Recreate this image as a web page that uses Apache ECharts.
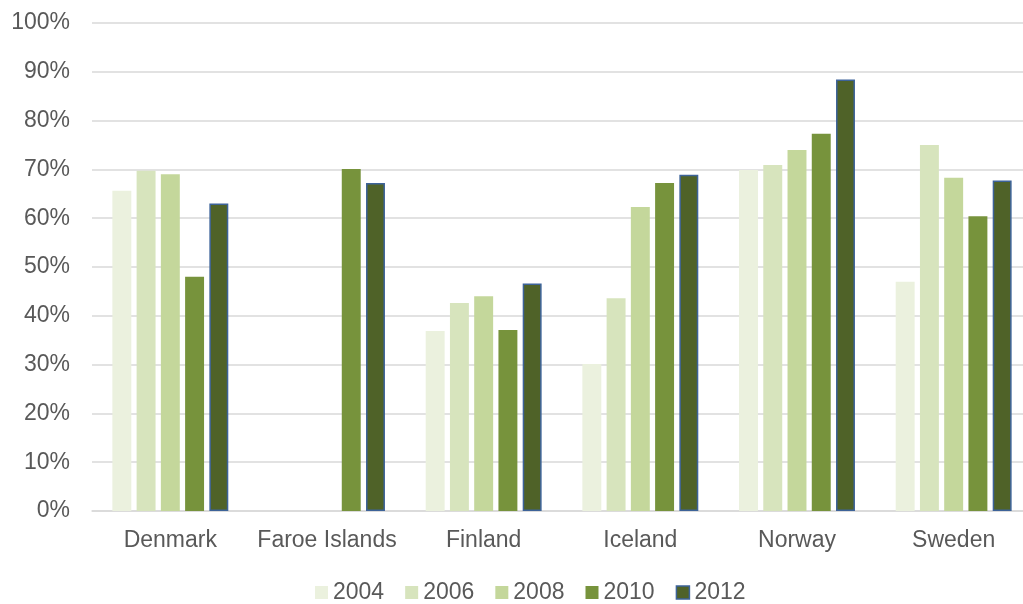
<!DOCTYPE html>
<html><head><meta charset="utf-8">
<script src="https://cdn.jsdelivr.net/npm/echarts@6/dist/echarts.min.js"></script>
<style>html,body{margin:0;padding:0;background:#fff}#c{width:1023px;height:604px}</style>
</head><body><div id="c"></div>
<script>
const categories = ['Denmark','Faroe Islands','Finland','Iceland','Norway','Sweden'];
const years = ['2004','2006','2008','2010','2012'];
const v2004 = [65.6, null, 36.9, 30.1, 69.9, 47.0];
const v2006 = [69.7, null, 42.6, 43.6, 70.9, 75.0];
const v2008 = [69.0, null, 44.0, 62.3, 74.0, 68.3];
const v2010 = [48.0, 70.1, 37.1, 67.2, 77.3, 60.4];
const v2012 = [63.0, 67.2, 46.6, 68.9, 88.4, 67.7];
const yTicks = [0,10,20,30,40,50,60,70,80,90,100];

const FONT = 'Liberation Sans, Arial, sans-serif';
const colors = ['#EBF1DE','#D7E4BD','#C4D79B','#77933C','#4F6228'];
const all = [v2004, v2006, v2008, v2010, v2012];
const series = years.map((y,i)=>({
  name: y, type:'bar', data: all[i],
  barGap: '28%', barCategoryGap: '26%',
  itemStyle: i===4 ? {color: colors[i], borderColor:'#3D6399', borderWidth:1.5} : {color: colors[i]}
}));
const chart = echarts.init(document.getElementById('c'));
chart.setOption({
  animation:false,
  textStyle:{fontFamily:FONT},
  grid:{left:92, right:-9, top:23, bottom:93, outerBoundsMode:'none', containLabel:false},
  legend:{top:576, left:310, itemWidth:13, itemHeight:13, itemGap:21,
    icon:'rect',
    textStyle:{color:'#595959', fontSize:23, fontFamily:FONT},
    data: years.map((y,i)=> i===4 ? {name:y, itemStyle:{borderColor:'#3D6399', borderWidth:1.5}} : {name:y})},
  xAxis:{type:'category', data:categories,
    axisLine:{lineStyle:{color:'#d9d9d9', width:1.5}}, axisTick:{show:false},
    axisLabel:{color:'#595959', fontSize:23, margin:18, interval:0, fontFamily:FONT}},
  yAxis:{type:'value', min:0, max:100, interval:10,
    axisLine:{show:false}, axisTick:{show:false},
    splitLine:{lineStyle:{color:'#d9d9d9', width:1.5}},
    axisLabel:{color:'#595959', fontSize:23, margin:22, fontFamily:FONT,
      formatter: v => yTicks.includes(v) ? v + '%' : ''}},
  series
});
</script></body></html>
